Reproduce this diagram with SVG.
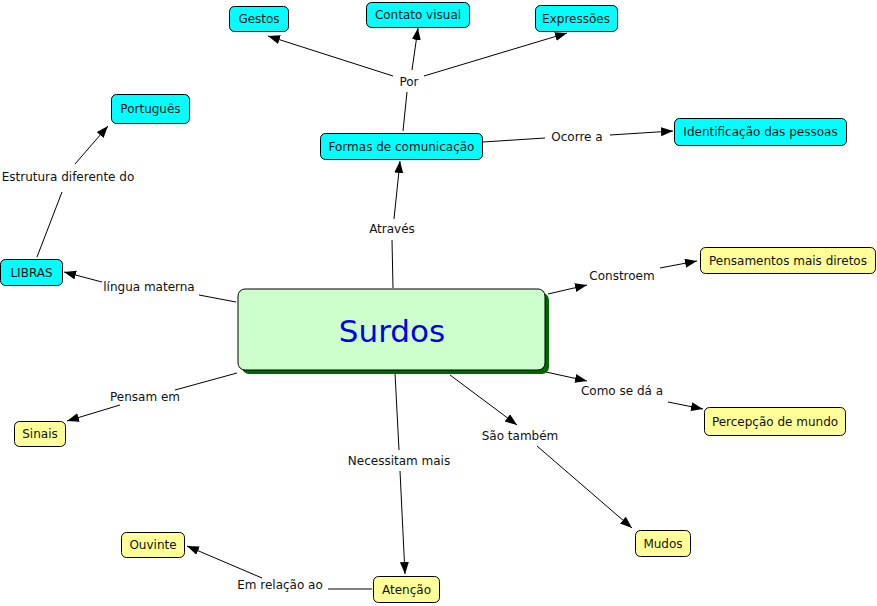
<svg xmlns="http://www.w3.org/2000/svg" width="877" height="606" viewBox="0 0 877 606">
<style>
text{font-family:"DejaVu Sans","Verdana",sans-serif;font-size:12px;fill:#111;text-anchor:middle;dominant-baseline:central}
.c rect{fill:#00ffff;stroke:#000;stroke-width:1}
.y rect{fill:#ffff99;stroke:#000;stroke-width:1}
.lbl{fill:#111}
#connectors line{stroke:#000;stroke-width:1}
.a{marker-end:url(#arr)}
</style>
<defs>
<marker id="arr" markerUnits="userSpaceOnUse" markerWidth="13" markerHeight="10" refX="12" refY="4.5" orient="auto">
<path d="M0,0 L12,4.5 L0,9 z" fill="#000"/>
</marker>
</defs>
<rect width="877" height="606" fill="#fff"/>
<g id="connectors">
<line x1="393" y1="288" x2="392" y2="240"/>
<line class="a" x1="394" y1="219" x2="400" y2="161"/>
<line x1="403" y1="131" x2="407" y2="92"/>
<line class="a" x1="393" y1="76" x2="268" y2="36"/>
<line class="a" x1="412" y1="70" x2="418" y2="28"/>
<line class="a" x1="424" y1="76" x2="567" y2="33"/>
<line x1="483" y1="142" x2="545" y2="138"/>
<line class="a" x1="610" y1="135" x2="673" y2="131"/>
<line x1="37" y1="257" x2="62" y2="192"/>
<line class="a" x1="75" y1="164" x2="108" y2="126"/>
<line x1="236" y1="302" x2="199" y2="295"/>
<line class="a" x1="102" y1="282" x2="64" y2="272"/>
<line class="a" x1="548" y1="294" x2="587" y2="285"/>
<line class="a" x1="660" y1="268" x2="697" y2="261"/>
<line class="a" x1="546" y1="372" x2="587" y2="381"/>
<line class="a" x1="668" y1="402" x2="703" y2="409"/>
<line x1="237" y1="373" x2="175" y2="390"/>
<line class="a" x1="120" y1="405" x2="67" y2="421"/>
<line class="a" x1="450" y1="375" x2="517" y2="425"/>
<line class="a" x1="537" y1="446" x2="632" y2="528"/>
<line x1="395" y1="373" x2="399" y2="450"/>
<line class="a" x1="400" y1="471" x2="405" y2="574"/>
<line x1="372" y1="589" x2="328" y2="589"/>
<line class="a" x1="262" y1="578" x2="187" y2="546"/>
<text x="392" y="229">Através</text>
<text x="409" y="82">Por</text>
<text x="577" y="137">Ocorre a</text>
<text x="68" y="177">Estrutura diferente do</text>
<text x="149" y="287">língua materna</text>
<text x="622" y="276">Constroem</text>
<text x="622" y="391">Como se dá a</text>
<text x="145" y="397">Pensam em</text>
<text x="520" y="436">São também</text>
<text x="399" y="461">Necessitam mais</text>
<text x="280" y="585">Em relação ao</text>
</g>
<g id="surdos">
<rect x="242" y="293" width="307" height="81" rx="7" fill="#006600"/>
<rect x="238" y="289" width="307" height="81" rx="7" fill="#ccffcc" stroke="#000" stroke-width="1"/>
<text x="392" y="331" style="font-size:31px;fill:#0000ee">Surdos</text>
</g>
<g id="gestos" class="c"><rect x="229.5" y="6.5" width="59" height="25" rx="5"/><text x="259" y="19">Gestos</text></g>
<g id="contato" class="c"><rect x="366.5" y="2.5" width="103" height="25" rx="5"/><text x="418" y="15">Contato visual</text></g>
<g id="expressoes" class="c"><rect x="535.5" y="5.5" width="82" height="26" rx="5"/><text x="576" y="18.5">Expressões</text></g>
<g id="portugues" class="c"><rect x="111.5" y="94.5" width="78" height="29" rx="5"/><text x="150.5" y="109">Português</text></g>
<g id="formas" class="c"><rect x="320.5" y="133.5" width="162" height="26" rx="5"/><text x="401.5" y="146.5">Formas de comunicação</text></g>
<g id="identificacao" class="c"><rect x="674.5" y="118.5" width="172" height="27" rx="5"/><text x="760.5" y="132">Identificação das pessoas</text></g>
<g id="libras" class="c"><rect x="0.5" y="259.5" width="62" height="26" rx="5"/><text x="31.5" y="272.5">LIBRAS</text></g>
<g id="pensamentos" class="y"><rect x="700.5" y="247.5" width="175" height="26" rx="5"/><text x="788" y="260.5">Pensamentos mais diretos</text></g>
<g id="percepcao" class="y"><rect x="704.5" y="407.5" width="141" height="28" rx="5"/><text x="775" y="421.5">Percepção de mundo</text></g>
<g id="sinais" class="y"><rect x="14.5" y="421.5" width="51" height="25" rx="5"/><text x="40" y="434">Sinais</text></g>
<g id="mudos" class="y"><rect x="635.5" y="530.5" width="55" height="26" rx="5"/><text x="663" y="543.5">Mudos</text></g>
<g id="ouvinte" class="y"><rect x="121.5" y="532.5" width="63" height="25" rx="5"/><text x="153" y="545">Ouvinte</text></g>
<g id="atencao" class="y"><rect x="373.5" y="576.5" width="66" height="26" rx="5"/><text x="406.5" y="589.5">Atenção</text></g>
</svg>
